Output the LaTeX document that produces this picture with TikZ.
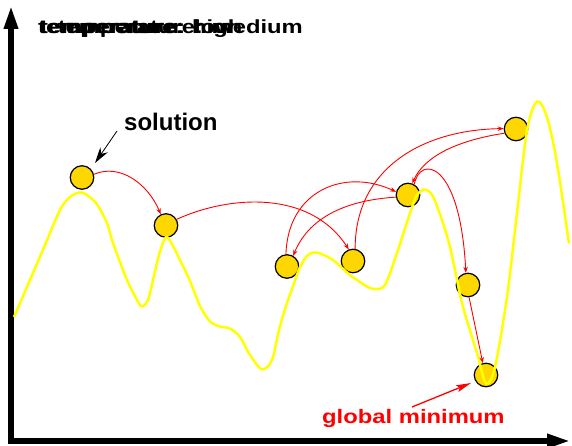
\documentclass[tikz,border=0pt]{standalone}
\usepackage{fontspec}
\setmainfont{Liberation Sans}
\usepackage{graphicx}
\usetikzlibrary{arrows.meta}
\definecolor{ballgold}{HTML}{FFD700}
\definecolor{curveyellow}{HTML}{FFFF00}
\definecolor{pathred}{HTML}{FF0000}
\begin{document}
\begin{tikzpicture}[x=1pt,y=-1pt,
  ball/.style={circle,draw=black,line width=1.2pt,fill=ballgold,minimum size=23.5pt,inner sep=0pt},
  move/.style={draw=pathred,line width=0.9pt,-{Stealth[length=6pt,width=4.5pt]}},
  axisline/.style={line width=6pt,{Triangle[length=24pt,width=13pt]}-{Triangle[length=24pt,width=13pt]}},
  landscape/.style={draw=curveyellow,line width=2.5pt,line join=round},
  lbl/.style={inner sep=0pt,anchor=base west},
  titlefont/.style={font=\fontsize{19}{19}\selectfont\bfseries},
  pointer/.style={draw=black,line width=0.8pt,-{Stealth[length=16pt,width=9pt,inset=5pt]}},
  gmpointer/.style={draw=pathred,line width=1.3pt,-{Stealth[length=15pt,width=7pt,inset=3pt]}}]
\useasboundingbox (0,0) rectangle (572,446);

% axes
\draw[axisline] (11,5) -- (11,441) -- (571,441);

% titles (overlaid, as in the reference)
\node[lbl,titlefont] (th) at (38,34) {\scalebox{1.25}[1]{temperature: high}};
\node[lbl,titlefont] (tl) at (40,34) {\scalebox{1.25}[1]{temperature: low}};
\node[titlefont,inner sep=0pt,anchor=base east] (tm) at (303,34) {\scalebox{1.25}[1]{temperature: medium}};

% solutions
\node[ball] (n1) at (82,177.5) {};
\node[ball] (n2) at (166,225.5) {};
\node[ball] (n3) at (287,266.5) {};
\node[ball] (n4) at (353,261) {};
\node[ball] (n5) at (408,195) {};
\node[ball] (n6) at (516,129) {};
\node[ball] (n7) at (468,285) {};
\node[ball] (n8) at (486,375) {};

% landscape
\draw[landscape] plot[smooth,tension=0.5] coordinates {
 (14,317) (30,280) (45,245) (60,210) (70,197) (82,192.5) (96,203) (107,223)
 (112,240) (120,262) (127,280) (137,300) (142,306.5) (148,300) (153,280)
 (159,255) (166,237) (173,246) (181,262) (190,281) (200,306) (210,321.5)
 (220,326.5) (230,328.5) (240,337) (250,355) (262,369.5) (272,360) (279,330)
 (286,306) (292,289) (300,267) (308,255) (317,252.5) (333,260) (350,275)
 (367,286.5) (375,289) (385,285) (397,253) (410,213) (417,195) (425,189.5)
 (433,196.5) (443,223) (450,247) (455,270) (463,307) (477,353) (486,383.5)
 (495,367) (507,297) (517,213) (527,130) (537,101.5) (547,117) (557,163)
 (569,243.5)};

% moves
\draw[move] (n1.15) .. controls (120,163) and (148,184) .. (n2.115);
\draw[move] (n2.30) .. controls (230,195) and (310,190) .. (n4.110);
\draw[move] (n4.80) .. controls (355,170) and (420,130) .. (n6.178);
\draw[move] (n6.200) .. controls (460,140) and (425,155) .. (n5.70);
\draw[move] (n5.190) .. controls (350,200) and (310,215) .. (n3.60);
\draw[move] (n3.95) .. controls (288,190) and (345,168) .. (n5.165);
\draw[move] (n5.60) .. controls (420,155) and (460,160) .. (n7.100);
\draw[move] (n7.-85) -- (n8.105);

% labels
\node[lbl,font=\fontsize{24}{24}\selectfont\bfseries] (sol) at (124,131) {solution};
\coordinate (solfrom) at ([xshift=-7pt]sol.base west);
\coordinate (soltip) at (95,163);
\draw[pointer] (solfrom) -- (soltip);

\node[lbl,font=\fontsize{19.5}{20}\selectfont\bfseries,text=pathred] (gm) at (322,423) {\scalebox{1.22}[1]{global minimum}};
\coordinate (gmfrom) at (412,407);
\coordinate (gmtip) at (471,383);
\draw[gmpointer] (gmfrom) -- (gmtip);
\end{tikzpicture}
\end{document}
